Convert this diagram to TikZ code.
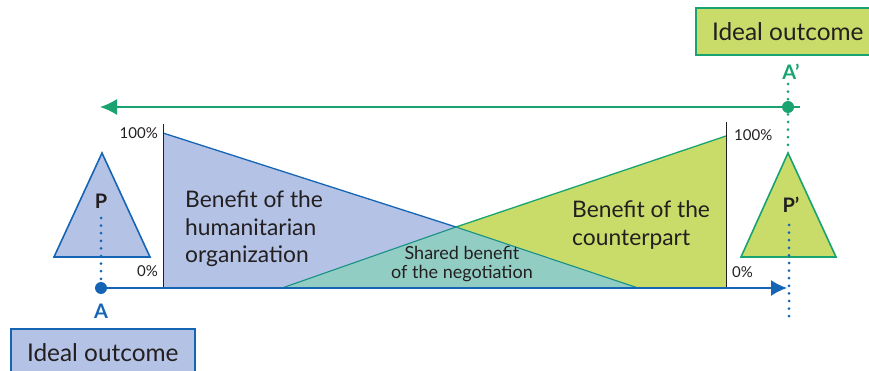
\documentclass[tikz,border=0pt]{standalone}
\usepackage{fontspec}
\setmainfont{Lato}
\usetikzlibrary{arrows.meta}
\definecolor{orgblue}{RGB}{22,101,181}
\definecolor{orgfill}{RGB}{180,195,229}
\definecolor{cpgreen}{RGB}{24,163,112}
\definecolor{cpfill}{RGB}{201,220,106}
\definecolor{sharedfill}{RGB}{146,205,196}
\definecolor{inktext}{RGB}{35,31,32}

\begin{document}
\begin{tikzpicture}[x=1pt, y=-1pt, >=Latex,
    pct/.style={font=\fontsize{15}{15}\selectfont, text=inktext, inner sep=1pt},
    bigtext/.style={font=\fontsize{22.8}{27.2}\selectfont, text=inktext, align=left, inner sep=0pt},
    letter/.style={font=\fontsize{20}{20}\selectfont\bfseries},
    dotline/.style={line width=3pt, line cap=round, dash pattern=on 0pt off 7.6pt},
    outcome/.style={line width=1.6pt, minimum width=184pt, minimum height=47pt,
      font=\fontsize{24.4}{24.4}\selectfont, text=inktext}]
    \useasboundingbox (0,0) rectangle (869,371);
    % benefit areas
    \fill[orgfill] (163,133) -- (456,227) -- (282,288) -- (163,288) -- cycle;
    \fill[cpfill] (726,136) -- (456,227) -- (638,288) -- (726,288) -- cycle;
    \fill[sharedfill] (282,288) -- (456,227) -- (638,288) -- cycle;
    \draw[orgblue, line width=1.3pt] (163,133) -- (456,227);
    \draw[cpgreen, line width=1.3pt] (726,136) -- (456,227);
    \draw[cpgreen!70!orgblue, line width=1.1pt] (282,288) -- (456,227) -- (638,288);
    \draw[inktext, line width=1pt] (163,124) -- (163,288);
    \draw[inktext, line width=1pt] (726,122) -- (726,288);
    \node[pct, anchor=east] (lhigh) at (159,133) {100\%};
    \node[pct, anchor=east] (llow) at (159,271) {0\%};
    \node[pct, anchor=west] (rhigh) at (733,135) {100\%};
    \node[pct, anchor=west] (rlow) at (731,272) {0\%};
    \node[bigtext, anchor=north west] (orgtext) at (185,191) {Benefit of the\\humanitarian\\organization};
    \node[bigtext, anchor=north west] (cptext) at (572,201) {Benefit of the\\counterpart};
    \node[font=\fontsize{18}{19}\selectfont, text=inktext, align=center, inner sep=0pt] (sharedtext) at (462,264) {Shared benefit\\of the negotiation};
    % positions
    \draw[orgblue, line width=1.6pt, fill=orgfill] (102,153) -- (150,257) -- (54,257) -- cycle;
    \draw[cpgreen, line width=1.6pt, fill=cpfill] (788,153) -- (836,257) -- (741,257) -- cycle;
    \node[letter, text=inktext] (P) at (101,201) {P};
    \node[letter, text=inktext] (Pp) at (791,205) {P’};
    \node[circle, fill=orgblue, inner sep=0pt, minimum size=12pt] (A) at (101,288) {};
    \node[circle, fill=cpgreen, inner sep=0pt, minimum size=12pt] (Ap) at (788,107) {};
    \node[letter, text=orgblue] (Alabel) at (101,311) {A};
    \node[letter, text=cpgreen] (Aplabel) at (791,72) {A’};
    \coordinate (axisend) at (787,288);
    \coordinate (greenend) at (100,107);
    \coordinate (greenstub) at (800,107);
    \coordinate (dropend) at (789,322);
    \draw[orgblue, line width=1.6pt, -{Latex[length=16pt, width=16pt]}] (A) -- (axisend);
    \draw[cpgreen, line width=1.6pt, -{Latex[length=17pt, width=16pt]}] (greenstub) -- (greenend);
    \draw[orgblue, dotline] (101,218) -- (A);
    \draw[orgblue, dotline] (789,225) -- (dropend);
    \draw[cpgreen, dotline] (788,84) -- (788,152);
    % ideal outcomes
    \node[outcome, draw=orgblue, fill=orgfill, anchor=north west] (idealleft) at (10,328) {Ideal outcome};
    \node[outcome, draw=cpgreen, fill=cpfill, anchor=north west] (idealright) at (695,7) {Ideal outcome};
\end{tikzpicture}
\end{document}
